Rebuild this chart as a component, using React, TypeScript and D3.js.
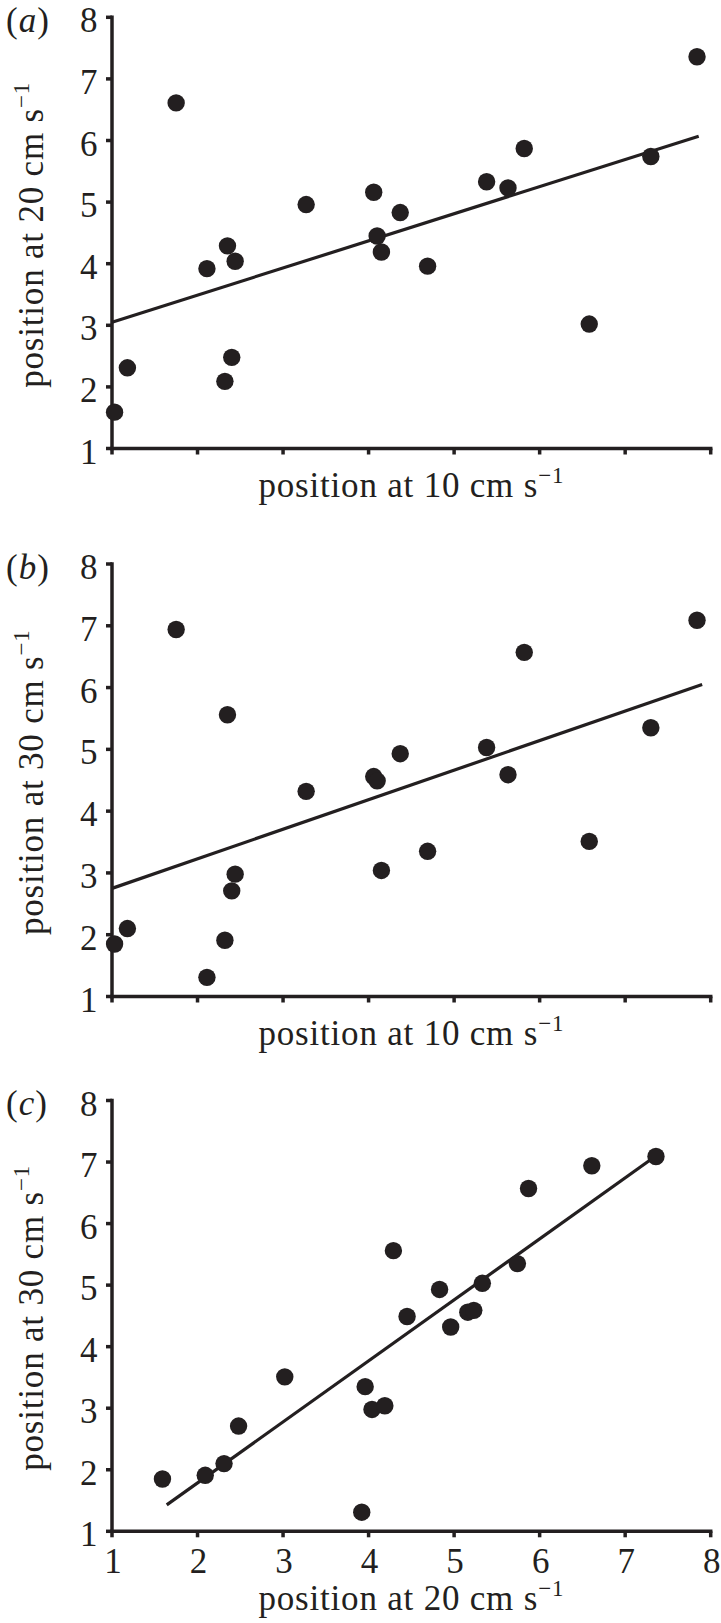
import React from "react";
import * as d3 from "d3";

// position at 10, 20 and 30 cm s-1 for each of the 20 individuals
const pos10 = [1.03, 1.18, 1.75, 2.11, 2.35, 2.44, 2.32, 2.40, 3.27, 4.06, 4.10, 4.15, 4.37, 4.69, 5.38, 5.63, 5.82, 6.58, 7.30, 7.84];
const pos20 = [1.59, 2.31, 6.61, 3.92, 4.29, 4.04, 2.09, 2.48, 4.96, 5.16, 4.45, 4.19, 4.83, 3.96, 5.33, 5.23, 5.87, 3.02, 5.74, 7.36];
const pos30 = [1.85, 2.10, 6.94, 1.31, 5.56, 2.98, 1.91, 2.71, 4.32, 4.56, 4.49, 3.04, 4.93, 3.35, 5.03, 4.59, 6.57, 3.51, 5.35, 7.09];

// regression line end points [x0, x1], [y0, y1]
const fitAx = [1, 7.86];
const fitAy = [3.05, 6.07];
const fitBx = [1, 7.9];
const fitBy = [2.75, 6.05];
const fitCx = [1.64, 7.37];
const fitCy = [1.43, 7.11];

const axisTicks = [1, 2, 3, 4, 5, 6, 7, 8];
const panelLabels = ["a", "b", "c"];
const yTitles = ["position at 20 cm s", "position at 30 cm s", "position at 30 cm s"];
const xTitles = ["position at 10 cm s", "position at 10 cm s", "position at 20 cm s"];

const FONT = '"Liberation Serif", "Times New Roman", serif';
const INK = "#231f20";
const FS = 35;
const LS = 0.8;

type PanelProps = {
  idx: number;
  top: number;
  bottom: number;
  xs: number[];
  ys: number[];
  fx: number[];
  fy: number[];
  xLabels: boolean;
  xTitleOffset: number;
};

function Panel({ idx, top, bottom, xs, ys, fx, fy, xLabels, xTitleOffset }: PanelProps) {
  const x = d3.scaleLinear().domain([1, 8]).range([112, 710.7]);
  const y = d3.scaleLinear().domain([1, 8]).range([bottom, top]);
  const line = d3
    .line<number>()
    .x((_, i) => x(fx[i]))
    .y((_, i) => y(fy[i]));
  const sw = 3.5;
  const tickLen = 6;
  const yMid = (top + bottom) / 2 + 2;
  const xMid = (x(1) + x(8)) / 2;
  return (
    <g>
      <text x={6} y={top + 14.5} fontFamily={FONT} fontSize={FS} fill={INK} letterSpacing={1}>
        (<tspan fontStyle="italic">{panelLabels[idx]}</tspan>)
      </text>
      {/* axes */}
      <line x1={x(1) - sw / 2} x2={x(8) + sw / 2} y1={y(1)} y2={y(1)} stroke={INK} strokeWidth={sw} />
      <line x1={x(1)} x2={x(1)} y1={y(8) - sw / 2} y2={y(1) + sw / 2} stroke={INK} strokeWidth={sw} />
      {axisTicks.map((t) => (
        <g key={"y" + t}>
          <line x1={x(1) - tickLen} x2={x(1)} y1={y(t)} y2={y(t)} stroke={INK} strokeWidth={sw} />
          <text x={97.5} y={y(t) + 15} textAnchor="end" fontFamily={FONT} fontSize={FS} fill={INK}>
            {t}
          </text>
        </g>
      ))}
      {axisTicks.map((t) => (
        <g key={"x" + t}>
          <line x1={x(t)} x2={x(t)} y1={y(1)} y2={y(1) + tickLen} stroke={INK} strokeWidth={sw} />
          {xLabels && (
            <text x={x(t) + 1} y={y(1) + 42} textAnchor="middle" fontFamily={FONT} fontSize={FS} fill={INK}>
              {t}
            </text>
          )}
        </g>
      ))}
      {/* titles */}
      <text
        transform={`translate(42.5,${yMid}) rotate(-90)`}
        textAnchor="middle"
        fontFamily={FONT}
        fontSize={FS}
        letterSpacing={LS}
        fill={INK}
      >
        {yTitles[idx]}
        <tspan fontSize={23} dy={-14}>−1</tspan>
      </text>
      <text
        x={xMid}
        y={y(1) + xTitleOffset}
        textAnchor="middle"
        fontFamily={FONT}
        fontSize={FS}
        letterSpacing={LS}
        fill={INK}
      >
        {xTitles[idx]}
        <tspan fontSize={23} dy={-14}>−1</tspan>
      </text>
      {/* regression line */}
      <path d={line(fx) || ""} fill="none" stroke={INK} strokeWidth={3.2} />
      {/* points */}
      {xs.map((v, i) => (
        <circle key={i} cx={x(v)} cy={y(ys[i])} r={8.7} fill={INK} />
      ))}
    </g>
  );
}

export default function App() {
  return (
    <svg
      width={721}
      height={1623}
      style={{ position: "absolute", left: 0, top: 0, background: "#fff" }}
    >
      <rect width={721} height={1623} fill="#fff" />
      <Panel idx={0} top={17.3} bottom={448.5} xs={pos10} ys={pos20} fx={fitAx} fy={fitAy} xLabels={false} xTitleOffset={48.5} />
      <Panel idx={1} top={564} bottom={996.5} xs={pos10} ys={pos30} fx={fitBx} fy={fitBy} xLabels={false} xTitleOffset={48.5} />
      <Panel idx={2} top={1100.5} bottom={1531.3} xs={pos20} ys={pos30} fx={fitCx} fy={fitCy} xLabels={true} xTitleOffset={79} />
    </svg>
  );
}
